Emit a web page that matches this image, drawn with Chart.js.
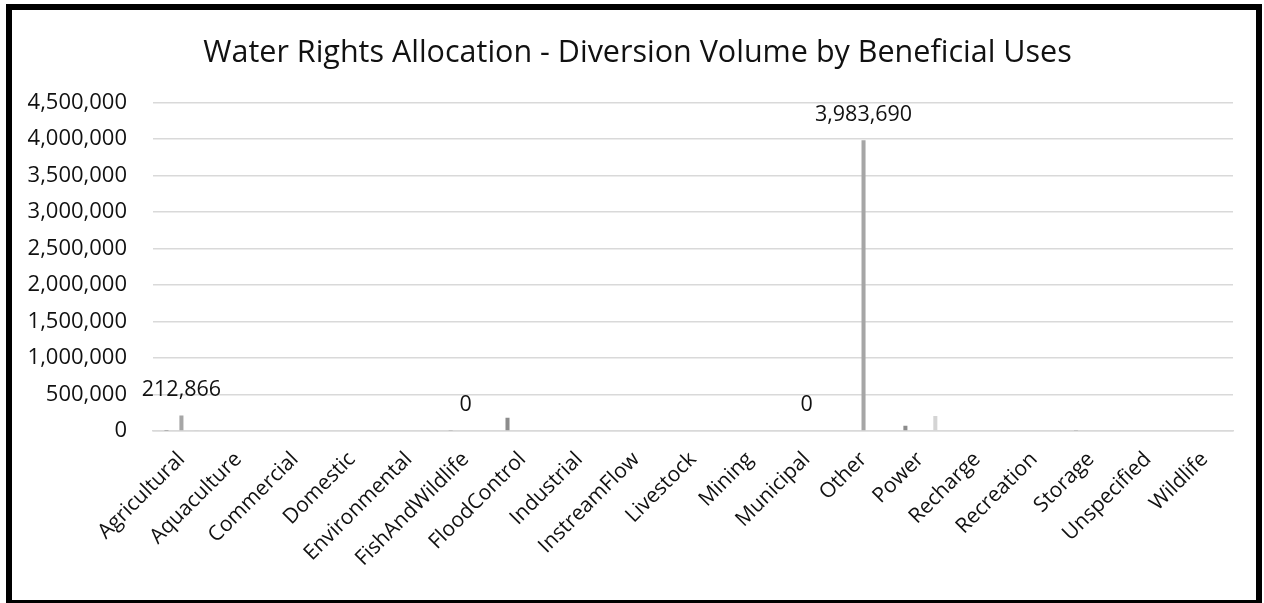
<!DOCTYPE html>
<html>
<head>
<meta charset="utf-8">
<title>Water Rights Allocation</title>
<script src="https://cdn.jsdelivr.net/npm/chart.js@4.4.1/dist/chart.umd.min.js"></script>
<style>
  html, body { margin: 0; padding: 0; background: #fff; overflow: hidden; }
  .frame {
    position: absolute; left: 6px; top: 4px;
    width: 1244px; height: 590px;
    border: 6px solid #000;
    background: #fff;
  }
  .frame canvas { display: block; }
</style>
</head>
<body>
<div class="frame"><canvas id="chart" width="1244" height="590"></canvas></div>
<script>
// categories (beneficial uses)
const categories = [
    'Agricultural', 'Aquaculture', 'Commercial', 'Domestic', 'Environmental',
    'FishAndWildlife', 'FloodControl', 'Industrial', 'InstreamFlow', 'Livestock',
    'Mining', 'Municipal', 'Other', 'Power', 'Recharge', 'Recreation',
    'Storage', 'Unspecified', 'Wildlife'
];

// three series per use, only the middle one carries data labels
const seriesLeft = [
    5000, null, null, null, null, 12000, 182000, null, null, null,
    null, null, null, 72000, null, null, 15000, null, null
];
const seriesMain = [
    212866, null, null, null, null, 0, null, null, null, null,
    null, 0, 3983690, null, null, null, null, null, null
];
const seriesRight = [
    4000, null, null, null, null, null, null, null, null, null,
    null, null, null, 205000, null, null, null, null, null
];

// y axis ticks
const yTicks = [0, 500000, 1000000, 1500000, 2000000, 2500000, 3000000, 3500000, 4000000, 4500000];

const fontFamily = "'Open Sans', 'Noto Sans', sans-serif";
const fmt = v => v.toLocaleString('en-US');

// draw the value above each bar of the labelled series
const valueLabels = {
    id: 'valueLabels',
    afterDatasetsDraw(chart) {
        const ctx = chart.ctx;
        const meta = chart.getDatasetMeta(1);
        ctx.save();
        ctx.font = '21.5px ' + fontFamily;
        ctx.fillStyle = '#111';
        ctx.textAlign = 'center';
        ctx.textBaseline = 'bottom';
        meta.data.forEach((bar, i) => {
            const v = seriesMain[i];
            if (v === null) return;
            ctx.fillText(fmt(v), bar.x, bar.y - 15);
        });
        ctx.restore();
    }
};

// nudge the title block a little to the right (title sits slightly right of centre)
const titleShift = {
    id: 'titleShift',
    afterLayout(chart) {
        if (chart.titleBlock) chart.titleBlock.left += 30;
    }
};

const chart = new Chart(document.getElementById('chart'), {
    type: 'bar',
    data: {
        labels: categories,
        datasets: [
            { label: 'Series 1', data: seriesLeft, backgroundColor: '#8c8c8c' },
            { label: 'Series 2', data: seriesMain, backgroundColor: '#a6a6a6' },
            { label: 'Series 3', data: seriesRight, backgroundColor: '#d4d4d4' }
        ]
    },
    options: {
        responsive: false,
        animation: false,
        categoryPercentage: 0.79,
        barPercentage: 0.27,
        layout: { padding: { left: 0, right: 23, top: 0, bottom: 0 } },
        plugins: {
            legend: { display: false },
            tooltip: { enabled: false },
            title: {
                display: true,
                text: 'Water Rights Allocation - Diversion Volume by Beneficial Uses',
                color: '#111',
                font: { family: fontFamily, size: 30.5, weight: 'normal', lineHeight: 1.2 },
                padding: { top: 25, bottom: 31 }
            }
        },
        scales: {
            x: {
                grid: { display: false, drawTicks: false },
                border: { display: true, color: '#d9d9d9', width: 1.5 },
                ticks: {
                    color: '#111',
                    font: { family: fontFamily, size: 21 },
                    minRotation: 45, maxRotation: 45,
                    autoSkip: false,
                    padding: 16
                },
                afterFit(scale) { scale.height = 169; }
            },
            y: {
                min: 0,
                max: 4500000,
                afterBuildTicks(scale) { scale.ticks = yTicks.map(v => ({ value: v })); },
                grid: { color: '#d9d9d9', lineWidth: 1.5, drawTicks: false },
                border: { display: false },
                ticks: {
                    color: '#111',
                    font: { family: fontFamily, size: 22 },
                    padding: 26,
                    callback: v => fmt(v)
                },
                afterFit(scale) { scale.width = 141; }
            }
        }
    },
    plugins: [valueLabels, titleShift]
});
</script>
</body>
</html>
